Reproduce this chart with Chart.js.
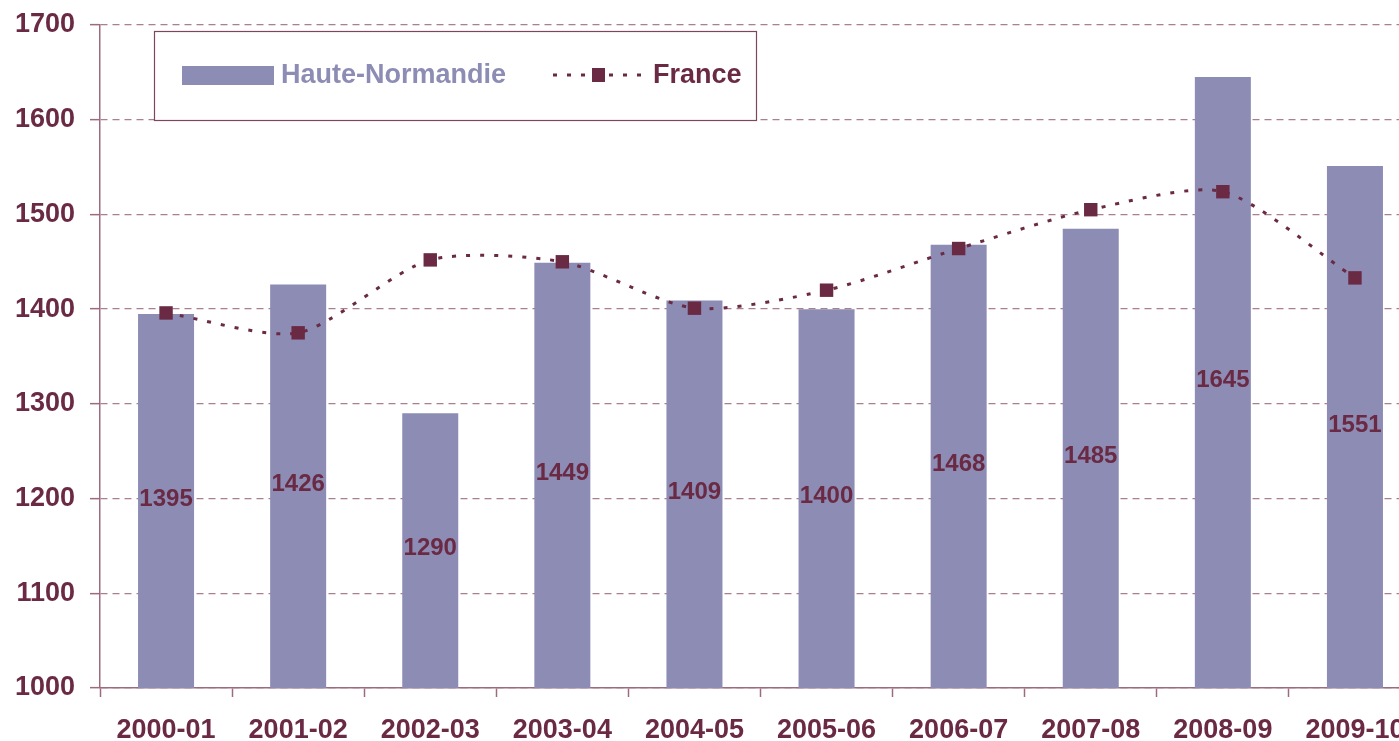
<!DOCTYPE html>
<html lang="fr">
<head>
<meta charset="utf-8">
<title>Haute-Normandie / France</title>
<script src="https://cdn.jsdelivr.net/npm/chart.js@4.4.1/dist/chart.umd.min.js"></script>
<style>
    html, body { margin: 0; padding: 0; background: #fff; overflow: hidden; }
    #wrap { width: 1421px; height: 741px; position: relative; overflow: hidden; }
    #barChart { display: block; }
</style>
</head>
<body>
<div id="wrap"><canvas id="barChart" width="1421" height="741"></canvas></div>
<script>
// données
const annees = ['2000-01', '2001-02', '2002-03', '2003-04', '2004-05', '2005-06', '2006-07', '2007-08', '2008-09', '2009-10'];
const valeursRegion = [1395, 1426, 1290, 1449, 1409, 1400, 1468, 1485, 1645, 1551];
const valeursFrance = [1396, 1375, 1452, 1450, 1401, 1420, 1464, 1505, 1524, 1433];
const graduationsY = [1000, 1100, 1200, 1300, 1400, 1500, 1600, 1700];

const couleurBarre = '#8C8CB5';
const bordeaux = '#6B2A44';
const couleurGrille = '#A9808F';
const couleurAxe = '#9C6B80';
const police = "'Liberation Sans', Arial, sans-serif";

// valeurs au milieu des barres
const etiquettesBarres = {
    id: 'etiquettesBarres',
    afterDraw(chart) {
        const ctx = chart.ctx;
        const echelleY = chart.scales.y;
        const meta = chart.getDatasetMeta(0);
        const base = echelleY.getPixelForValue(echelleY.min);
        ctx.save();
        ctx.font = 'bold 24px ' + police;
        ctx.fillStyle = bordeaux;
        ctx.textAlign = 'center';
        ctx.textBaseline = 'middle';
        valeursRegion.forEach((v, i) => {
            const x = meta.data[i].getProps(['x'], true).x;
            const y = (echelleY.getPixelForValue(v) + base) / 2 - 2;
            ctx.fillText(String(v), x, y);
        });
        ctx.restore();
    }
};

// légende encadrée dans la zone du graphique
const legendeCadre = {
    id: 'legendeCadre',
    afterDraw(chart) {
        const ctx = chart.ctx;
        const ds = chart.data.datasets;
        ctx.save();
        ctx.fillStyle = '#fff';
        ctx.fillRect(154.5, 31.5, 602, 89);
        ctx.strokeStyle = '#7E4560';
        ctx.lineWidth = 1.2;
        ctx.strokeRect(154.5, 31.5, 602, 89);

        ctx.fillStyle = couleurBarre;
        ctx.fillRect(182, 66, 92, 19);
        ctx.font = 'bold 27px ' + police;
        ctx.textBaseline = 'alphabetic';
        ctx.textAlign = 'left';
        ctx.fillText(ds[0].label, 281, 83);

        ctx.strokeStyle = bordeaux;
        ctx.lineWidth = 3;
        ctx.setLineDash([4, 10]);
        ctx.beginPath();
        ctx.moveTo(553, 75);
        ctx.lineTo(643, 75);
        ctx.stroke();
        ctx.setLineDash([]);
        ctx.fillStyle = bordeaux;
        ctx.fillRect(592, 68, 13, 14);
        ctx.fillText(ds[1].label, 653, 83);
        ctx.restore();
    }
};

document.addEventListener('DOMContentLoaded', () => {
    const ctx = document.getElementById('barChart');
    new Chart(ctx, {
        data: {
            labels: annees,
            datasets: [{
                type: 'bar',
                label: 'Haute-Normandie',
                data: valeursRegion,
                backgroundColor: couleurBarre,
                barPercentage: 0.424,
                categoryPercentage: 1,
                order: 2
            }, {
                type: 'line',
                label: 'France',
                data: valeursFrance,
                borderColor: bordeaux,
                borderWidth: 3,
                borderDash: [4, 10],
                borderCapStyle: 'butt',
                tension: 0.25,
                pointStyle: 'rect',
                pointRadius: 9.5,
                pointBackgroundColor: bordeaux,
                pointBorderColor: bordeaux,
                pointBorderWidth: 0,
                clip: false,
                order: 1
            }]
        },
        options: {
            responsive: false,
            animation: false,
            layout: { autoPadding: false, padding: { top: 25, left: 0, right: 0, bottom: 0 } },
            plugins: {
                legend: { display: false },
                tooltip: { enabled: false }
            },
            scales: {
                x: {
                    offset: true,
                    grid: {
                        offset: true,
                        drawOnChartArea: false,
                        drawTicks: true,
                        tickLength: 9,
                        tickColor: couleurAxe,
                        tickWidth: 1.5
                    },
                    border: { display: true, color: couleurAxe, width: 1.5 },
                    ticks: {
                        color: bordeaux,
                        font: { family: police, size: 27, weight: 'bold' },
                        padding: 17,
                        maxRotation: 0,
                        autoSkip: false
                    },
                    afterFit(scale) {
                        scale.height = 53;
                        scale.paddingLeft = 0;
                        scale.paddingRight = 0;
                    }
                },
                y: {
                    min: graduationsY[0],
                    max: graduationsY[graduationsY.length - 1],
                    afterBuildTicks(scale) {
                        scale.ticks = graduationsY.map(v => ({ value: v }));
                    },
                    grid: {
                        color: couleurGrille,
                        lineWidth: 1.3,
                        drawTicks: true,
                        tickLength: 10,
                        tickColor: couleurAxe,
                        tickWidth: 1.5
                    },
                    border: { display: true, color: couleurAxe, width: 1.5, dash: [7, 5] },
                    ticks: {
                        color: bordeaux,
                        font: { family: police, size: 27, weight: 'bold' },
                        padding: 15,
                        callback: v => String(v)
                    },
                    afterFit(scale) {
                        scale.width = 100;
                        scale.paddingTop = 0;
                        scale.paddingBottom = 0;
                    }
                }
            }
        },
        plugins: [etiquettesBarres, legendeCadre]
    });
});
</script>
</body>
</html>
